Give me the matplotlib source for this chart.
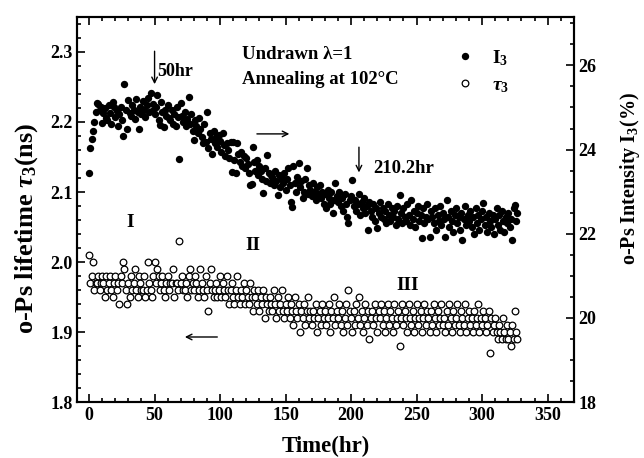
import matplotlib
matplotlib.use("Agg")
import matplotlib.pyplot as plt
import numpy as np
from matplotlib.ticker import MultipleLocator

plt.rcParams['font.family'] = ['Liberation Serif', 'DejaVu Serif']
plt.rcParams['font.weight'] = 'bold'
plt.rcParams['mathtext.fontset'] = 'custom'
plt.rcParams['mathtext.rm'] = 'Liberation Serif:bold'
plt.rcParams['mathtext.it'] = 'Liberation Serif:italic:bold'
plt.rcParams['mathtext.bf'] = 'Liberation Serif:bold'

# o-Ps intensity I3 (%), one reading per hour
I3 = [
    23.44, 24.04, 24.25, 24.45, 24.65, 24.90, 25.10, 25.08, 24.95, 25.02,
    24.62, 24.86, 24.98, 24.75, 24.70, 25.05, 24.88, 24.60, 25.12, 25.00,
    24.78, 24.92, 24.55, 24.85, 25.02, 24.70, 24.32, 25.55, 24.95, 24.48,
    25.18, 24.88, 24.80, 25.05, 24.95, 24.72, 25.20, 24.90, 24.50, 25.00,
    24.85, 25.15, 24.95, 24.78, 25.05, 25.22, 24.90, 25.34, 24.92, 25.08,
    24.85, 25.00, 25.30, 24.70, 24.58, 25.12, 24.90, 24.53, 24.95, 24.80,
    25.05, 24.75, 24.70, 24.95, 24.60, 24.85, 24.55, 25.00, 24.78, 23.77,
    25.10, 24.80, 24.65, 24.90, 24.55, 24.72, 25.24, 24.60, 24.85, 24.45,
    24.22, 24.70, 24.55, 24.40, 24.75, 24.48, 24.30, 24.15, 24.60, 24.18,
    24.89, 24.03, 24.40, 24.25, 23.90, 24.45, 24.15, 24.30, 24.05, 24.35,
    24.20, 23.95, 24.39, 24.10, 23.85, 24.15, 24.00, 23.80, 24.18, 23.46,
    24.18, 23.75, 23.44, 24.15, 23.90, 23.70, 23.95, 23.60, 23.85, 23.55,
    23.80, 23.65, 23.44, 23.15, 23.18, 24.06, 23.70, 23.50, 23.75, 23.40,
    23.60, 23.50, 23.30, 22.96, 23.55, 23.25, 23.87, 23.45, 23.20, 23.40,
    23.35, 23.15, 23.50, 23.25, 22.92, 23.40, 23.10, 23.30, 23.20, 23.45,
    23.05, 23.30, 23.56, 23.15, 22.75, 22.63, 23.62, 23.20, 23.00, 23.35,
    23.67, 23.10, 23.25, 22.85, 23.00, 23.30, 23.56, 22.95, 23.15, 23.05,
    22.90, 23.20, 23.00, 22.80, 23.10, 22.95, 23.15, 22.85, 23.00, 22.70,
    22.95, 22.60, 23.05, 22.85, 22.70, 23.00, 22.50, 22.80, 23.20, 22.90,
    22.75, 23.00, 22.65, 22.85, 22.55, 22.95, 22.70, 22.40, 22.25, 22.80,
    22.90, 23.27, 22.65, 22.80, 22.55, 22.70, 22.95, 22.45, 22.75, 22.60,
    22.85, 22.50, 22.65, 22.10, 22.75, 22.55, 22.40, 22.70, 22.30, 22.60,
    22.13, 22.50, 22.75, 22.40, 22.60, 22.35, 22.55, 22.25, 22.70, 22.45,
    22.30, 22.60, 22.40, 22.55, 22.20, 22.65, 22.35, 22.92, 22.50, 22.25,
    22.60, 22.40, 22.30, 22.70, 22.45, 22.20, 22.80, 22.35, 22.55, 22.15,
    22.50, 22.65, 22.30, 22.45, 21.90, 22.60, 22.25, 22.40, 22.70, 22.35,
    21.92, 22.55, 22.40, 22.25, 22.60, 22.10, 22.45, 22.30, 22.65, 22.20,
    22.50, 22.35, 21.92, 22.80, 22.40, 22.15, 22.55, 22.30, 22.05, 22.45,
    22.60, 22.25, 22.40, 22.10, 22.50, 21.85, 22.35, 22.65, 22.20, 22.45,
    22.30, 22.55, 22.15, 22.40, 22.00, 22.60, 22.25, 22.45, 22.10, 22.35,
    22.55, 22.73, 22.20, 22.40, 22.05, 22.50, 22.30, 22.15, 22.45, 22.00,
    22.35, 22.60, 22.20, 22.45, 22.10, 22.55, 22.30, 22.05, 22.40, 22.25,
    22.50, 22.15, 22.35, 21.85, 22.60, 22.68, 22.30, 22.50,
]

# o-Ps lifetime tau3 (ns)
tau3 = [
    2.01, 1.97, 1.98, 2.00, 1.96, 1.97, 1.97, 1.98, 1.96, 1.97,
    1.98, 1.97, 1.95, 1.98, 1.96, 1.97, 1.98, 1.96, 1.95, 1.97,
    1.98, 1.96, 1.97, 1.94, 1.98, 1.97, 2.00, 1.99, 1.96, 1.94,
    1.97, 1.95, 1.98, 1.96, 1.97, 1.99, 1.96, 1.95, 1.98, 1.97,
    1.96, 1.96, 1.98, 1.95, 1.96, 2.00, 1.97, 1.96, 1.95, 1.98,
    2.00, 1.97, 1.99, 1.98, 1.96, 1.97, 1.98, 1.96, 1.95, 1.97,
    1.98, 1.96, 1.97, 1.97, 1.99, 1.95, 1.97, 1.97, 1.96, 2.03,
    1.97, 1.98, 1.96, 1.96, 1.97, 1.95, 1.98, 1.99, 1.96, 1.97,
    1.96, 1.98, 1.97, 1.95, 1.96, 1.99, 1.97, 1.96, 1.95, 1.98,
    1.96, 1.93, 1.97, 1.99, 1.96, 1.95, 1.96, 1.97, 1.95, 1.96,
    1.98, 1.95, 1.97, 1.96, 1.95, 1.98, 1.96, 1.94, 1.96, 1.97,
    1.95, 1.94, 1.96, 1.98, 1.95, 1.94, 1.96, 1.95, 1.97, 1.94,
    1.96, 1.95, 1.94, 1.97, 1.95, 1.93, 1.96, 1.95, 1.94, 1.96,
    1.93, 1.95, 1.94, 1.96, 1.92, 1.95, 1.94, 1.93, 1.95, 1.94,
    1.93, 1.96, 1.94, 1.92, 1.95, 1.93, 1.94, 1.96, 1.93, 1.92,
    1.94, 1.93, 1.95, 1.92, 1.94, 1.93, 1.91, 1.95, 1.93, 1.92,
    1.94, 1.90, 1.93, 1.92, 1.94, 1.91, 1.93, 1.95, 1.92, 1.93,
    1.91, 1.93, 1.92, 1.94, 1.90, 1.92, 1.93, 1.91, 1.94, 1.92,
    1.93, 1.91, 1.92, 1.94, 1.90, 1.93, 1.92, 1.95, 1.91, 1.93,
    1.92, 1.94, 1.91, 1.93, 1.90, 1.92, 1.94, 1.91, 1.96, 1.93,
    1.92, 1.90, 1.93, 1.91, 1.94, 1.92, 1.95, 1.91, 1.93, 1.90,
    1.92, 1.94, 1.91, 1.93, 1.89, 1.92, 1.93, 1.91, 1.94, 1.92,
    1.90, 1.93, 1.92, 1.94, 1.91, 1.93, 1.90, 1.92, 1.94, 1.91,
    1.93, 1.92, 1.90, 1.94, 1.91, 1.92, 1.93, 1.88, 1.92, 1.94,
    1.91, 1.93, 1.92, 1.90, 1.94, 1.92, 1.91, 1.93, 1.90, 1.92,
    1.94, 1.91, 1.92, 1.93, 1.90, 1.92, 1.94, 1.91, 1.93, 1.92,
    1.90, 1.93, 1.91, 1.94, 1.92, 1.90, 1.93, 1.91, 1.92, 1.94,
    1.91, 1.92, 1.90, 1.93, 1.91, 1.94, 1.92, 1.90, 1.93, 1.91,
    1.92, 1.94, 1.91, 1.90, 1.93, 1.92, 1.91, 1.94, 1.90, 1.92,
    1.93, 1.91, 1.92, 1.90, 1.93, 1.91, 1.92, 1.94, 1.90, 1.92,
    1.91, 1.93, 1.92, 1.90, 1.91, 1.93, 1.87, 1.92, 1.90, 1.91,
    1.92, 1.90, 1.89, 1.91, 1.90, 1.89, 1.92, 1.90, 1.89, 1.91,
    1.89, 1.90, 1.88, 1.91, 1.89, 1.93, 1.90, 1.89,
]

hours = np.arange(len(I3))

fig = plt.figure(figsize=(6.44, 4.58), dpi=100)
ax = fig.add_axes([0.120, 0.122, 0.771, 0.841])
ax2 = ax.twinx()

ax.plot(hours, tau3, 'o', ms=4.8, mfc='white', mec='black', mew=0.9,
        label=r'$\tau_3$', zorder=3)
ax2.plot(hours, I3, 'o', ms=5.3, color='black', mew=0, label=r'I$_3$')

ax.set_xlim(-9, 370)
ax.set_ylim(1.8, 2.35)
ax2.set_ylim(18, 27.15)

ax.xaxis.set_major_locator(MultipleLocator(50))
ax.xaxis.set_minor_locator(MultipleLocator(10))
ax.yaxis.set_major_locator(MultipleLocator(0.1))
ax.yaxis.set_minor_locator(MultipleLocator(0.02))
ax2.yaxis.set_major_locator(MultipleLocator(2))
ax2.yaxis.set_minor_locator(MultipleLocator(0.5))

ax.tick_params(axis='both', which='both', direction='in', labelsize=13,
               width=1.2, top=True, right=False)
ax.tick_params(which='major', length=6)
ax.tick_params(which='minor', length=3)
ax2.tick_params(axis='y', which='both', direction='in', labelsize=13, width=1.2)
ax2.tick_params(which='major', length=6)
ax2.tick_params(which='minor', length=3)
ax.yaxis.set_major_formatter(plt.FormatStrFormatter('%.1f'))
for a in (ax, ax2):
    for lab in a.get_xticklabels() + a.get_yticklabels():
        lab.set_fontweight('bold')
    for s in a.spines.values():
        s.set_linewidth(1.5)

ax.set_xlabel('Time(hr)', fontsize=16.5, fontweight='bold')
ax.xaxis.set_label_coords(0.5, -0.088)
ax.set_ylabel(r'o-Ps lifetime $\tau_3$(ns)', fontsize=19, fontweight='bold')
ax.yaxis.set_label_coords(-0.076, 0.45)
ax2.set_ylabel(r'o-Ps Intensity I$_3$(%)', fontsize=14.5, fontweight='bold')
ax2.yaxis.set_label_coords(1.090, 0.58)

# annotations
kw = dict(arrowstyle='->', lw=1.0, color='black', mutation_scale=10)
ax.annotate('', xy=(50, 2.25), xytext=(50, 2.305), arrowprops=kw)
ax.text(52, 2.272, '50hr', fontsize=13, fontweight='bold', va='center')
ax.annotate('', xy=(206, 2.124), xytext=(206, 2.168), arrowprops=kw)
ax.text(217, 2.134, '210.2hr', fontsize=13.5, fontweight='bold', va='center')
ax.annotate('', xy=(155, 2.183), xytext=(126, 2.183), arrowprops=kw)
ax.annotate('', xy=(71, 1.893), xytext=(100, 1.893), arrowprops=kw)

ax.text(31, 2.056, 'I', fontsize=14, fontweight='bold', ha='center', va='center')
ax.text(125, 2.024, 'II', fontsize=14, fontweight='bold', ha='center', va='center')
ax.text(243, 1.966, 'III', fontsize=14, fontweight='bold', ha='center', va='center')

ax.text(117, 2.296, 'Undrawn λ=1', fontsize=13.5, fontweight='bold', va='center')
ax.text(117, 2.260, 'Annealing at 102°C', fontsize=13.5, fontweight='bold', va='center')

h1, l1 = ax2.get_legend_handles_labels()
h2, l2 = ax.get_legend_handles_labels()
leg = ax.legend(h1 + h2, l1 + l2, loc='upper left',
                bbox_to_anchor=(0.745, 0.94), frameon=False, fontsize=14,
                handlelength=1.0, handletextpad=0.9, labelspacing=0.45,
                borderaxespad=0)
for t in leg.get_texts():
    t.set_fontweight('bold')

fig.savefig('out.png', dpi=100)
